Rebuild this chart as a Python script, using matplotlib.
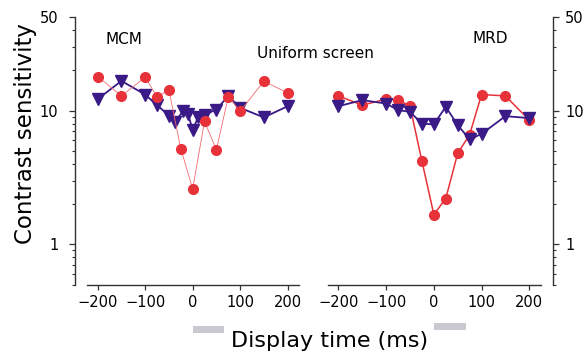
import numpy as np
import matplotlib

matplotlib.use("Agg")
import matplotlib.pyplot as plt
import matplotlib.transforms as mtransforms
from matplotlib.patches import Rectangle
from matplotlib.ticker import LogLocator, NullFormatter, FixedLocator

# MCM (left panel)
mcm_red_t = [-200, -150, -100, -75, -50, -25, 0, 25, 50, 75, 100, 150, 200]
mcm_red = [18.0, 12.9, 17.8, 12.7, 14.3, 5.2, 2.6, 8.3, 5.1, 12.7, 9.9, 16.6, 13.6]
mcm_blue_t = [-200, -150, -100, -75, -50, -37, -20, -10, 0, 12, 25, 50, 75, 100, 150, 200]
mcm_blue = [12.2, 16.7, 13.2, 11.0, 9.2, 8.2, 10.0, 9.5, 7.2, 9.0, 9.3, 10.2, 12.9, 10.5, 8.9, 10.8]

# MRD (right panel)
mrd_t = [-200, -150, -100, -75, -50, -25, 0, 25, 50, 75, 100, 150, 200]
mrd_red = [12.9, 11.0, 12.2, 12.1, 10.8, 4.2, 1.67, 2.2, 4.8, 6.6, 13.2, 12.9, 8.5]
mrd_blue = [10.8, 12.0, 11.3, 10.1, 9.8, 8.0, 7.9, 10.7, 7.8, 6.1, 6.7, 9.1, 8.8]

# stimulus display interval (ms)
stim_on = [0, 67]

xticks = [-200, -100, 0, 100, 200]
yticks = [1, 10, 50]

RED = "#e8323a"
BLUE = "#3a1a86"
W, H = 584, 356

fig = plt.figure(figsize=(W / 100, H / 100), dpi=100)
axL = fig.add_axes([87 / W, 1 - 284.5 / H, 212 / W, 267.2 / H])
axR = fig.add_axes([327.7 / W, 1 - 284.5 / H, 213 / W, 267.2 / H])


def style(ax, side):
    ax.set_yscale("log")
    ax.set_ylim(0.5, 50)
    ax.set_xlim(-222.5, 224)
    ax.xaxis.set_major_locator(FixedLocator(xticks))
    ax.set_xticklabels(["\u2212200", "\u2212100", "0", "100", "200"])
    ax.yaxis.set_major_locator(FixedLocator(yticks))
    ax.yaxis.set_minor_locator(LogLocator(base=10, subs=np.arange(2, 10)))
    ax.yaxis.set_minor_formatter(NullFormatter())
    ax.set_yticklabels([str(v) for v in yticks])
    for s in ["top", "left", "right"]:
        ax.spines[s].set_visible(False)
    ax.spines[side].set_visible(True)
    ax.spines[side].set_position(("outward", 8.6))
    for s in ax.spines.values():
        s.set_color("#333333")
        s.set_linewidth(1.0)
    ax.tick_params(axis="x", direction="out", length=3.5, width=0.9,
                   labelsize=10.5, pad=4, colors="#333333", labelcolor="black")
    ax.tick_params(axis="y", which="major", direction="out", length=4, width=0.9,
                   labelsize=10.5, colors="#333333", labelcolor="black")
    ax.tick_params(axis="y", which="minor", direction="out", length=2.5, width=0.8,
                   colors="#333333")
    if side == "right":
        ax.yaxis.tick_right()
        ax.tick_params(axis="y", which="major", pad=5)
    else:
        ax.tick_params(axis="y", which="major", pad=8)
    ax.patch.set_alpha(0)


style(axL, "left")
style(axR, "right")

axL.plot(mcm_blue_t, mcm_blue, color=BLUE, lw=1.3, marker="v", ms=8,
         mec=BLUE, mfc=BLUE, zorder=3)
axL.plot(mcm_red_t, mcm_red, color="#ef6a6e", lw=0.6, zorder=4)
axL.plot(mcm_red_t, mcm_red, color=RED, lw=0, marker="o", ms=7,
         mec=RED, mfc=RED, zorder=4)

axR.plot(mrd_t, mrd_red, color=RED, lw=1.1, marker="o", ms=7,
         mec=RED, mfc=RED, zorder=3)
axR.plot(mrd_t, mrd_blue, color=BLUE, lw=1.3, marker="v", ms=8,
         mec=BLUE, mfc=BLUE, zorder=4)

# stimulus bars under each x axis
for ax, y0 in [(axL, -0.1815), (axR, -0.170)]:
    trans = mtransforms.blended_transform_factory(ax.transData, ax.transAxes)
    ax.add_patch(Rectangle((stim_on[0], y0), stim_on[1] - stim_on[0], 0.026,
                           transform=trans, color="#c9c9d1", lw=0,
                           clip_on=False))

fig.text(123.8 / W, 1 - 40 / H, "MCM", ha="center", va="center", fontsize=11)
fig.text(315 / W, 1 - 53 / H, "Uniform screen", ha="center", va="center", fontsize=11)
fig.text(490 / W, 1 - 38.5 / H, "MRD", ha="center", va="center", fontsize=11)
fig.text(330 / W, 1 - 341 / H, "Display time (ms)", ha="center", va="center", fontsize=16)
fig.text(26 / W, 1 - 134 / H, "Contrast sensitivity", ha="center", va="center",
         rotation=90, fontsize=16.5)

fig.savefig("out.png", dpi=100)
